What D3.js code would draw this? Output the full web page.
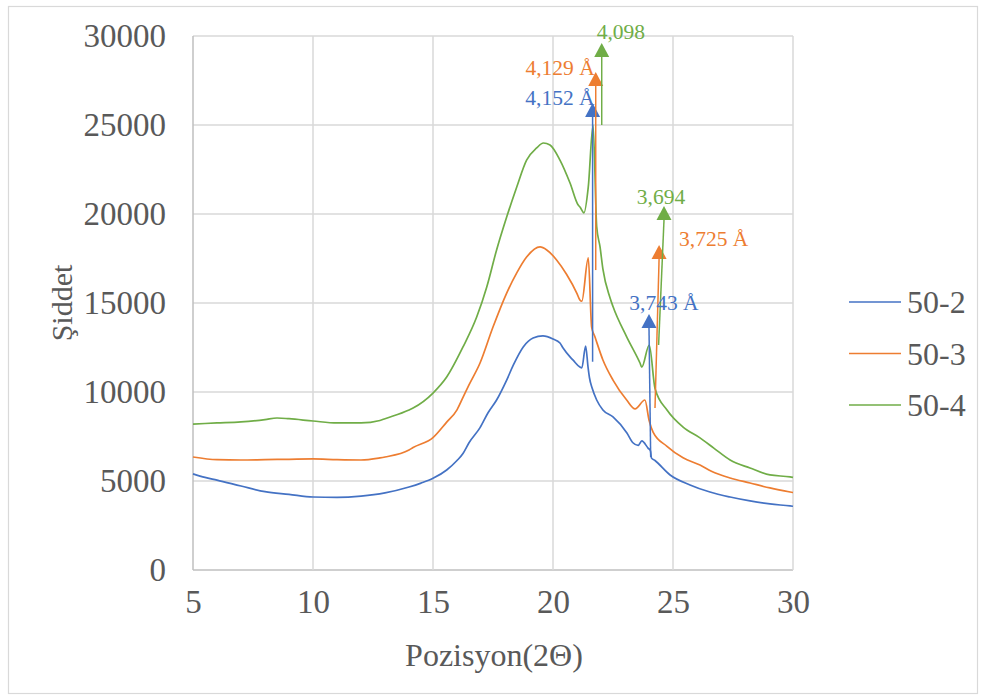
<!DOCTYPE html>
<html>
<head>
<meta charset="utf-8">
<script src="https://cdn.jsdelivr.net/npm/d3@7"></script>
<style>
  html, body { margin: 0; padding: 0; background: #ffffff; }
  svg { display: block; }
  text { font-family: "Liberation Serif", "Times New Roman", serif; }
</style>
</head>
<body>
<svg id="chart" width="986" height="700"></svg>
<script>
// XRD scans: 2θ positions (degrees) and intensities for each sample
const pos502 = [5.0, 5.5, 6.0, 7.0, 8.0, 9.0, 10.0, 11.0, 12.0, 13.0, 14.0, 14.5, 15.0, 15.57, 16.0, 16.25, 16.5, 16.96, 17.3, 17.65, 18.07, 18.35, 18.76, 19.17, 19.58, 20.0, 20.29, 20.42, 20.71, 20.83, 21.12, 21.2, 21.36, 21.46, 21.52, 21.63, 21.82, 22.08, 22.5, 23.08, 23.33, 23.55, 23.7, 23.96, 24.06, 24.1, 24.25, 24.88, 25.71, 26.54, 27.38, 28.21, 29.04, 29.88, 30.0];
const int502 = [5400, 5200, 5050, 4720, 4400, 4250, 4100, 4080, 4150, 4330, 4660, 4880, 5150, 5620, 6150, 6550, 7150, 8000, 8850, 9550, 10670, 11520, 12530, 13030, 13150, 12980, 12750, 12470, 11970, 11800, 11400, 11350, 12580, 11400, 10800, 10220, 9550, 8990, 8600, 7700, 7150, 7000, 7250, 6850, 6700, 6300, 6150, 5340, 4780, 4380, 4100, 3880, 3710, 3600, 3580];

const pos503 = [5.0, 6.0, 7.0, 8.0, 9.0, 10.0, 11.0, 12.0, 12.79, 13.0, 14.0, 14.17, 15.0, 15.57, 16.0, 16.25, 16.5, 16.96, 17.5, 18.07, 18.49, 18.9, 19.46, 19.74, 20.15, 20.57, 20.99, 21.12, 21.2, 21.47, 21.61, 21.75, 22.08, 22.5, 23.07, 23.42, 23.83, 24.0, 24.17, 24.75, 25.42, 26.125, 26.6, 27.38, 28.21, 29.04, 29.88, 30.0];
const int503 = [6350, 6200, 6180, 6200, 6220, 6240, 6200, 6180, 6300, 6350, 6740, 6880, 7440, 8310, 9000, 9700, 10400, 11630, 13650, 15560, 16690, 17580, 18150, 17980, 17420, 16600, 15560, 15170, 15100, 17530, 13650, 13090, 11800, 10670, 9550, 9050, 9550, 8430, 7750, 6950, 6300, 5900, 5550, 5170, 4890, 4610, 4380, 4350];

const pos504 = [5.0, 6.0, 7.0, 8.0, 8.5, 9.0, 10.0, 11.0, 12.0, 12.79, 13.0, 14.0, 14.17, 15.0, 15.57, 16.25, 16.82, 17.24, 17.65, 18.07, 18.49, 18.9, 19.32, 19.6, 19.875, 20.29, 20.71, 21.05, 21.125, 21.29, 21.47, 21.67, 21.82, 21.96, 22.08, 22.375, 22.5, 23.07, 23.625, 23.7, 24.01, 24.25, 24.75, 25.42, 26.125, 26.7, 27.38, 28.21, 29.04, 29.88, 30.0];
const int504 = [8200, 8260, 8320, 8450, 8540, 8500, 8370, 8260, 8260, 8400, 8500, 8990, 9100, 9940, 10840, 12530, 14210, 15900, 17980, 19830, 21520, 23030, 23710, 23990, 23880, 23030, 21740, 20500, 20390, 20060, 21520, 25000, 19300, 18150, 16900, 15300, 14800, 13100, 11630, 11400, 12640, 10200, 8990, 8030, 7420, 6850, 6180, 5730, 5340, 5230, 5200];

const seriesNames = ["50-2", "50-3", "50-4"];
const seriesColors = ["#4472C4", "#ED7D31", "#70AD47"];

// Peak markers: arrow from base intensity up to tip, with d-spacing labels
const peakLabels = ["4,152 Å", "4,129 Å", "4,098", "3,743 Å", "3,725 Å", "3,694"];
const peakSeries = [0, 1, 2, 0, 1, 2];
const peakBasePos = [21.65, 21.78, 22.03, 24.07, 24.25, 24.40];
const peakTipPos = [21.65, 21.78, 22.03, 24.00, 24.42, 24.625];
const peakBaseInt = [11700, 16850, 25000, 6350, 9100, 12640];
const peakTipInt = [26240, 27980, 29610, 14380, 18260, 20450];

const xTicks = [5, 10, 15, 20, 25, 30];
const yTicks = [0, 5000, 10000, 15000, 20000, 25000, 30000];

const svg = d3.select("#chart");
const W = 986, H = 700;
const plot = { left: 193, right: 793, top: 36, bottom: 570 };
const FONT = "Liberation Serif, Times New Roman, serif";

const x = d3.scaleLinear().domain([5, 30]).range([plot.left, plot.right]);
const y = d3.scaleLinear().domain([0, 30000]).range([plot.bottom, plot.top]);

// chart frame
svg.append("rect")
  .attr("x", 8.5).attr("y", 6.5)
  .attr("width", W - 17).attr("height", H - 13)
  .attr("fill", "#ffffff").attr("stroke", "#d9d9d9").attr("stroke-width", 1.2);

// gridlines
svg.append("g").selectAll("line").data(yTicks).join("line")
  .attr("x1", plot.left).attr("x2", plot.right)
  .attr("y1", d => y(d)).attr("y2", d => y(d))
  .attr("stroke", d => d === 0 ? "#bfbfbf" : "#d9d9d9").attr("stroke-width", 1.5);
svg.append("g").selectAll("line").data(xTicks).join("line")
  .attr("y1", plot.top).attr("y2", plot.bottom)
  .attr("x1", d => x(d)).attr("x2", d => x(d))
  .attr("stroke", d => d === 5 ? "#bfbfbf" : "#d9d9d9").attr("stroke-width", 1.5);

// axes (labels only; grid drawn above)
const yAxis = d3.axisLeft(y).tickValues(yTicks).tickSize(0).tickPadding(27).tickFormat(d3.format("d"));
const yG = svg.append("g").attr("transform", `translate(${plot.left},0)`).call(yAxis)
  .attr("font-family", FONT).attr("font-size", 33);
yG.select(".domain").remove();
yG.selectAll("text").attr("fill", "#595959");

const xAxis = d3.axisBottom(x).tickValues(xTicks).tickSize(0).tickPadding(20).tickFormat(d3.format("d"));
const xG = svg.append("g").attr("transform", `translate(0,${plot.bottom})`).call(xAxis)
  .attr("font-family", FONT).attr("font-size", 33);
xG.select(".domain").remove();
xG.selectAll("text").attr("fill", "#595959");

// axis titles
svg.append("text")
  .attr("x", (plot.left + plot.right) / 2 + 1).attr("y", 666)
  .attr("text-anchor", "middle").attr("font-size", 32).attr("fill", "#595959")
  .text("Pozisyon(2Θ)");
svg.append("text")
  .attr("transform", `translate(72,${(plot.top + plot.bottom) / 2}) rotate(-90)`)
  .attr("text-anchor", "middle").attr("font-size", 30).attr("fill", "#595959")
  .text("Şiddet");

// series lines
const allPos = [pos502, pos503, pos504];
const allInt = [int502, int503, int504];
const line = d3.line().curve(d3.curveMonotoneX).x(d => x(d[0])).y(d => y(d[1]));
allPos.forEach((p, i) => {
  const pts = p.map((v, k) => [v, allInt[i][k]]);
  svg.append("path").datum(pts)
    .attr("d", line)
    .attr("fill", "none")
    .attr("stroke", seriesColors[i])
    .attr("stroke-width", 1.7)
    .attr("stroke-linejoin", "round");
});

// peak arrows
const triH = 14, triHalf = 7.5;
const peaks = peakLabels.map((t, i) => ({
  label: t, s: peakSeries[i],
  x0: peakBasePos[i], y0: peakBaseInt[i], x1: peakTipPos[i], y1: peakTipInt[i]
}));
const pg = svg.append("g");
peaks.forEach(p => {
  const c = seriesColors[p.s];
  const tx = x(p.x1), ty = y(p.y1);
  pg.append("line")
    .attr("x1", x(p.x0)).attr("y1", y(p.y0))
    .attr("x2", tx).attr("y2", ty + triH)
    .attr("stroke", c).attr("stroke-width", 1.5);
  pg.append("path")
    .attr("d", `M${tx},${ty} L${tx + triHalf},${ty + triH} L${tx - triHalf},${ty + triH} Z`)
    .attr("fill", c);
});

// peak labels
const labelAnchor = [
  { dx: 2, dy: 2, anchor: "end" },     // 4,152 Å
  { dx: -1, dy: 3, anchor: "end" },    // 4,129 Å
  { dx: -5, dy: -4, anchor: "start" }, // 4,098
  { dx: 15, dy: -4, anchor: "middle" },// 3,743 Å
  { dx: 20, dy: 1, anchor: "start" },  // 3,725 Å
  { dx: -3, dy: -2, anchor: "middle" } // 3,694
];
peaks.forEach((p, i) => {
  const a = labelAnchor[i];
  pg.append("text")
    .attr("x", x(p.x1) + a.dx).attr("y", y(p.y1) + a.dy)
    .attr("text-anchor", a.anchor)
    .attr("font-size", 21.5)
    .attr("fill", seriesColors[p.s])
    .text(p.label);
});

// legend
const lg = svg.append("g");
seriesNames.forEach((n, i) => {
  const ly = 302 + i * 51.5;
  lg.append("line").attr("x1", 849).attr("x2", 901).attr("y1", ly).attr("y2", ly)
    .attr("stroke", seriesColors[i]).attr("stroke-width", 1.5);
  lg.append("text").attr("x", 907).attr("y", ly + 11)
    .attr("font-size", 32).attr("fill", "#595959").text(n);
});
</script>
</body>
</html>
